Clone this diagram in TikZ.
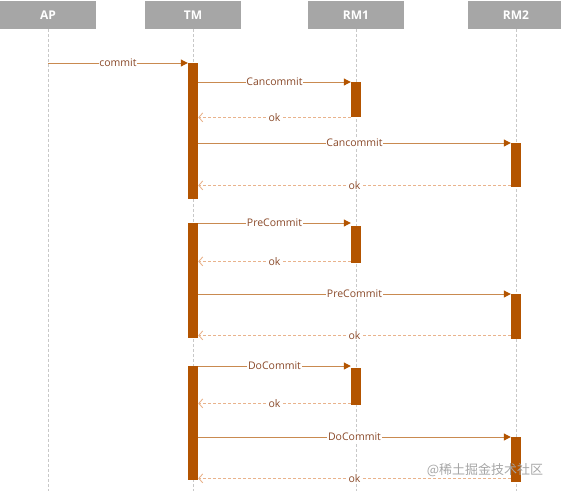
\documentclass[tikz,border=0pt]{standalone}
\usepackage{fontspec}
\setmainfont{Open Sans}
\newfontfamily\cjk{Noto Sans CJK SC}
\usetikzlibrary{arrows.meta}
\definecolor{barc}{HTML}{B35400}
\definecolor{linec}{HTML}{C98A50}
\definecolor{retc}{HTML}{E9B38C}
\definecolor{txtc}{HTML}{8A4A2A}
\definecolor{hdr}{HTML}{A6A6A6}
\definecolor{lifec}{HTML}{C8C8C8}
\begin{document}
\begin{tikzpicture}[x=1pt,y=-1pt,
 hdrbox/.style={fill=hdr, text=white, font=\bfseries\fontsize{12}{14}\selectfont, minimum width=96pt, minimum height=28pt, inner sep=0pt, anchor=north},
 actbar/.style={fill=barc, draw=none, minimum width=10pt, inner sep=0pt, anchor=north},
 call/.style={draw=linec, line width=1pt, -{Triangle[length=7pt,width=7pt,color=barc,fill=barc]}},
 ret/.style={draw=retc, dash pattern=on 3pt off 2pt, line width=0.9pt, -{Straight Barb[length=4pt,width=9pt,color=retc]}},
 lbl/.style={fill=white, text=txtc, font=\fontsize{10.5}{12}\selectfont, inner sep=0.6pt},
 life/.style={draw=lifec, dash pattern=on 3pt off 2pt, line width=0.5pt}
]
\useasboundingbox (0,0) rectangle (561,491);
\coordinate (bot) at (0,491);
% headers
\node[hdrbox] (ap)  at (48,1)  {AP};
\node[hdrbox] (tm)  at (193,1) {TM};
\node[hdrbox] (rma) at (356,1) {RM1};
\node[hdrbox] (rmb) at (516,1) {RM2};
% lifelines
\draw[life] (ap.south) -- (ap.south |- bot);
\draw[life] (tm.south) -- (tm.south |- bot);
\draw[life] (rma.south) -- (rma.south |- bot);
\draw[life] (rmb.south) -- (rmb.south |- bot);
% activation bars
\node[actbar, minimum height=136pt] (tmA) at (193,63) {};
\node[actbar, minimum height=115pt] (tmB) at (193,223) {};
\node[actbar, minimum height=114pt] (tmC) at (193,366) {};
\node[actbar, minimum height=35pt] (r1a) at (356,82) {};
\node[actbar, minimum height=37pt] (r1b) at (356,226) {};
\node[actbar, minimum height=37pt] (r1c) at (356,368) {};
\node[actbar, minimum height=44pt] (r2a) at (516,143) {};
\node[actbar, minimum height=45pt] (r2b) at (516,294) {};
\node[actbar, minimum height=45pt] (r2c) at (516,437) {};
% messages
\draw[call] (ap.south |- tmA.north west) -- node[lbl] {commit} (tmA.north west);
\draw[call] (tmA.east |- r1a.north west) -- node[lbl] {Cancommit} (r1a.north west);
\draw[ret] (r1a.south west) -- node[lbl] {ok} (r1a.south west -| tmA.east);
\draw[call] (tmA.east |- r2a.north west) -- node[lbl] {Cancommit} (r2a.north west);
\draw[ret] ([yshift=2pt]r2a.south west) -- node[lbl] {ok} ([yshift=2pt]r2a.south west -| tmA.east);
\draw[call] (tmB.north east) -- node[lbl] {PreCommit} (tmB.north east -| r1b.west);
\draw[ret] ([yshift=2pt]r1b.south west) -- node[lbl] {ok} ([yshift=2pt]r1b.south west -| tmB.east);
\draw[call] (tmB.east |- r2b.north west) -- node[lbl] {PreCommit} (r2b.north west);
\draw[ret] ([yshift=4pt]r2b.south west) -- node[lbl] {ok} ([yshift=4pt]r2b.south west -| tmB.east);
\draw[call] (tmC.north east) -- node[lbl] {DoCommit} (tmC.north east -| r1c.west);
\draw[ret] ([yshift=2pt]r1c.south west) -- node[lbl] {ok} ([yshift=2pt]r1c.south west -| tmC.east);
\draw[call] (tmC.east |- r2c.north west) -- node[lbl] {DoCommit} (r2c.north west);
\draw[ret] ([yshift=4pt]r2c.south west) -- node[lbl] {ok} ([yshift=4pt]r2c.south west -| tmC.east);
% watermark
\node[text=black!35, font=\cjk\fontsize{13}{15}\selectfont, inner sep=0pt] (wm) at (485,470) {@稀土掘金技术社区};
\end{tikzpicture}
\end{document}
